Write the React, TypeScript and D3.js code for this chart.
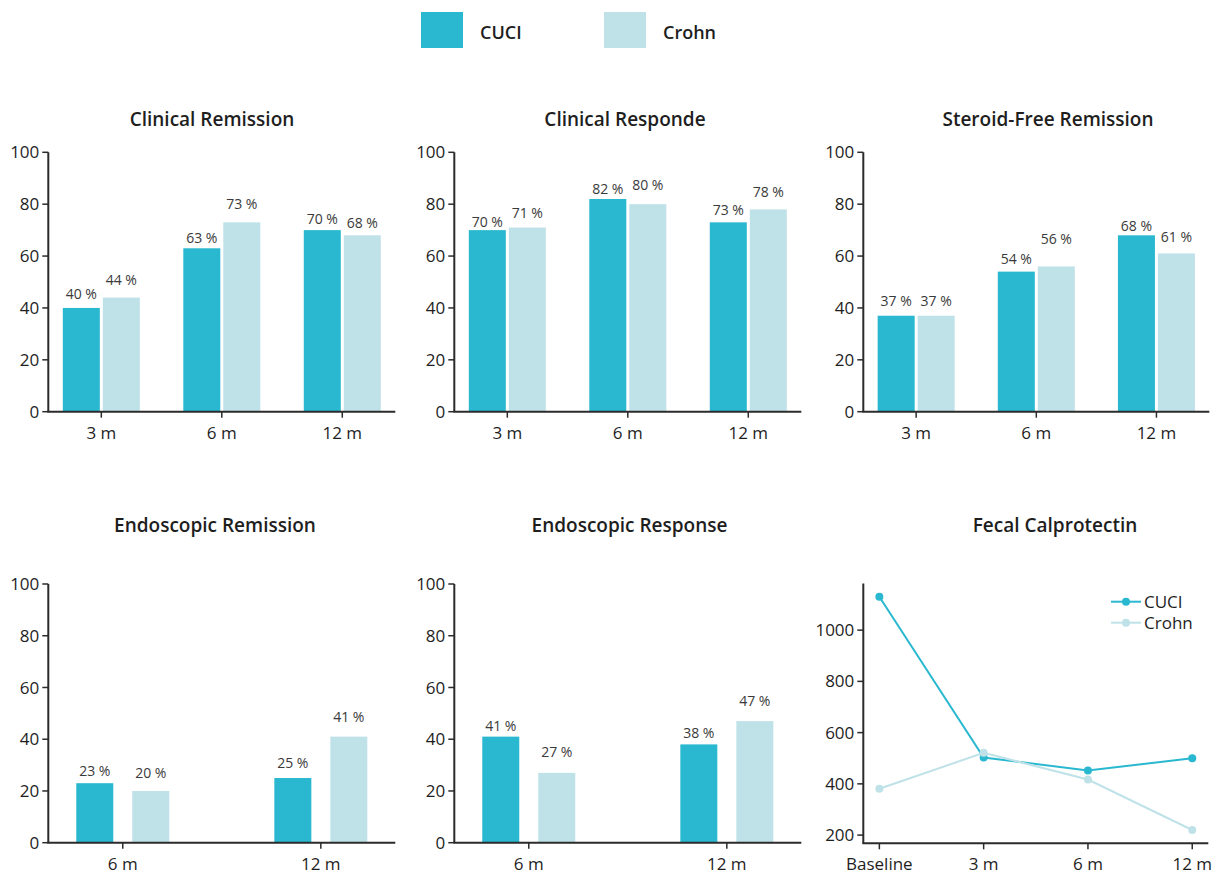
import React from "react";
import * as d3 from "d3";

// ---- data ----
const seriesNames = ["CUCI", "Crohn"];
const periodsThree = ["3 m", "6 m", "12 m"];
const periodsTwo = ["6 m", "12 m"];

const clinicalRemissionCuci = [40, 63, 70];
const clinicalRemissionCrohn = [44, 73, 68];
const clinicalResponseCuci = [70, 82, 73];
const clinicalResponseCrohn = [71, 80, 78];
const steroidFreeCuci = [37, 54, 68];
const steroidFreeCrohn = [37, 56, 61];
const endoRemissionCuci = [23, 25];
const endoRemissionCrohn = [20, 41];
const endoResponseCuci = [41, 38];
const endoResponseCrohn = [27, 47];

const fecalPeriods = ["Baseline", "3 m", "6 m", "12 m"];
const fecalCuci = [1130, 503, 452, 500];
const fecalCrohn = [381, 521, 417, 220];

const percentTicks = [0, 20, 40, 60, 80, 100];
const fecalTicks = [200, 400, 600, 800, 1000];

// ---- style ----
const COLORS: Record<string, string> = { CUCI: "#29b8cf", Crohn: "#bfe2e8" };
const FONT = "'Open Sans', 'DejaVu Sans', sans-serif";
const AXIS = "#2b2b2b";
const TEXT = "#1e1e1e";
const TITLE_SIZE = 19;

// label lift above each bar (px), CUCI then Crohn per panel
const liftsCR = [[9, 5, 6], [13, 13, 7]];
const liftsCRe = [[3, 5, 7], [10, 14, 12]];
const liftsSF = [[10, 8, 4], [10, 22, 11]];
const liftsER = [[7, 10], [13, 15]];
const liftsERe = [[6, 6], [16, 15]];

type BarPanelProps = {
  title: string;
  titleX: number;
  titleY: number;
  axisX: number;
  width: number;
  yTop: number;
  yBottom: number;
  periods: string[];
  cuci: number[];
  crohn: number[];
  pointPadding: number;
  barWidth: number;
  barGap: number;
  lifts: number[][];
};

function BarPanel(p: BarPanelProps) {
  const x = d3
    .scalePoint<string>()
    .domain(p.periods)
    .range([p.axisX, p.axisX + p.width])
    .padding(p.pointPadding);
  const y = d3.scaleLinear().domain([0, 100]).range([p.yBottom, p.yTop]);
  const series = [p.cuci, p.crohn];
  const offsets = [-(p.barGap / 2 + p.barWidth), p.barGap / 2];

  return (
    <g>
      <text
        x={p.titleX}
        y={p.titleY}
        textAnchor="middle"
        fontFamily={FONT}
        fontWeight={600}
        fontSize={TITLE_SIZE}
        fill={TEXT}
      >
        {p.title}
      </text>
      {series.map((vals, si) =>
        vals.map((v, i) => {
          const cx = x(p.periods[i]) as number;
          const bx = cx + offsets[si];
          return (
            <g key={`${si}-${i}`}>
              <rect
                x={bx}
                y={y(v)}
                width={p.barWidth}
                height={y(0) - y(v)}
                fill={COLORS[seriesNames[si]]}
              />
              <text
                x={bx + p.barWidth / 2}
                y={y(v) - p.lifts[si][i]}
                textAnchor="middle"
                fontFamily={FONT}
                fontSize={14}
                fill="#3a3a3a"
              >
                {`${v} %`}
              </text>
            </g>
          );
        })
      )}
      {/* y axis */}
      <line x1={p.axisX} x2={p.axisX} y1={y(100)} y2={y(0)} stroke={AXIS} strokeWidth={2} />
      {percentTicks.map((t) => (
        <g key={t}>
          <line x1={p.axisX - 6} x2={p.axisX} y1={y(t)} y2={y(t)} stroke={AXIS} strokeWidth={1.5} />
          <text
            x={p.axisX - 9}
            y={y(t)}
            dy="0.36em"
            textAnchor="end"
            fontFamily={FONT}
            fontSize={17}
            fill={TEXT}
          >
            {t}
          </text>
        </g>
      ))}
      {/* x axis */}
      <line x1={p.axisX - 1} x2={p.axisX + p.width} y1={y(0)} y2={y(0)} stroke={AXIS} strokeWidth={2} />
      {p.periods.map((c) => (
        <g key={c}>
          <line x1={x(c)} x2={x(c)} y1={y(0)} y2={y(0) + 6} stroke={AXIS} strokeWidth={1.5} />
          <text
            x={x(c)}
            y={y(0) + 27}
            textAnchor="middle"
            fontFamily={FONT}
            fontSize={17}
            fill={TEXT}
          >
            {c}
          </text>
        </g>
      ))}
    </g>
  );
}

function FecalPanel() {
  const axisX = 863.3;
  const width = 345;
  const yTop = 583.5;
  const yBottom = 843.3;
  const x = d3
    .scalePoint<string>()
    .domain(fecalPeriods)
    .range([axisX, axisX + width])
    .padding(0.154);
  const y = d3.scaleLinear().domain([168, 1182]).range([yBottom, yTop]);
  const line = d3
    .line<number>()
    .x((_, i) => x(fecalPeriods[i]) as number)
    .y((v) => y(v));
  const series = [fecalCuci, fecalCrohn];
  const legendX = 1111;
  const legendY = [601.7, 622.7];

  return (
    <g>
      <text
        x={1055}
        y={531.5}
        textAnchor="middle"
        fontFamily={FONT}
        fontWeight={600}
        fontSize={TITLE_SIZE}
        fill={TEXT}
      >
        Fecal Calprotectin
      </text>
      {series.map((vals, si) => (
        <g key={si}>
          <path d={line(vals) as string} fill="none" stroke={COLORS[seriesNames[si]]} strokeWidth={2} />
          {vals.map((v, i) => (
            <circle
              key={i}
              cx={x(fecalPeriods[i]) as number}
              cy={y(v)}
              r={4}
              fill={COLORS[seriesNames[si]]}
            />
          ))}
        </g>
      ))}
      {/* legend */}
      {seriesNames.map((s, si) => (
        <g key={s}>
          <line
            x1={legendX}
            x2={legendX + 30}
            y1={legendY[si]}
            y2={legendY[si]}
            stroke={COLORS[s]}
            strokeWidth={2}
          />
          <circle cx={legendX + 15} cy={legendY[si]} r={4} fill={COLORS[s]} />
          <text
            x={legendX + 33}
            y={legendY[si]}
            dy="0.36em"
            fontFamily={FONT}
            fontSize={17}
            fill={TEXT}
          >
            {s}
          </text>
        </g>
      ))}
      {/* y axis */}
      <line x1={axisX} x2={axisX} y1={yTop} y2={yBottom} stroke={AXIS} strokeWidth={2} />
      {fecalTicks.map((t) => (
        <g key={t}>
          <line x1={axisX - 6} x2={axisX} y1={y(t)} y2={y(t)} stroke={AXIS} strokeWidth={1.5} />
          <text
            x={axisX - 9}
            y={y(t)}
            dy="0.36em"
            textAnchor="end"
            fontFamily={FONT}
            fontSize={17}
            fill={TEXT}
          >
            {t}
          </text>
        </g>
      ))}
      {/* x axis */}
      <line x1={axisX - 1} x2={axisX + width} y1={yBottom} y2={yBottom} stroke={AXIS} strokeWidth={2} />
      {fecalPeriods.map((c) => (
        <g key={c}>
          <line x1={x(c)} x2={x(c)} y1={yBottom} y2={yBottom + 6} stroke={AXIS} strokeWidth={1.5} />
          <text
            x={x(c)}
            y={yBottom + 27}
            textAnchor="middle"
            fontFamily={FONT}
            fontSize={17}
            fill={TEXT}
          >
            {c}
          </text>
        </g>
      ))}
    </g>
  );
}

export default function App() {
  const topRow = { yTop: 152.3, yBottom: 411.7, titleY: 126 };
  const bottomRow = { yTop: 584, yBottom: 842.7, titleY: 531.5 };
  const axisXs = [48.3, 454.3, 863.3];
  const common3 = { pointPadding: 0.44, barWidth: 37, barGap: 3, periods: periodsThree, width: 347 };
  const common2 = { pointPadding: 0.376, barWidth: 37, barGap: 19, periods: periodsTwo, width: 347 };

  return (
    <svg
      width={1219}
      height={876}
      style={{ position: "absolute", left: 0, top: 0, background: "#fff" }}
    >
      {/* legend */}
      {seriesNames.map((s, i) => {
        const lx = [421, 604][i];
        return (
          <g key={s}>
            <rect x={lx} y={12} width={42} height={36} fill={COLORS[s]} />
            <text
              x={lx + 59}
              y={39}
              fontFamily={FONT}
              fontWeight={600}
              fontSize={18}
              fill={TEXT}
            >
              {s}
            </text>
          </g>
        );
      })}

      <BarPanel
        title="Clinical Remission"
        titleX={212}
        axisX={axisXs[0]}
        {...topRow}
        {...common3}
        cuci={clinicalRemissionCuci}
        crohn={clinicalRemissionCrohn}
        lifts={liftsCR}
      />
      <BarPanel
        title="Clinical Responde"
        titleX={625}
        axisX={axisXs[1]}
        {...topRow}
        {...common3}
        cuci={clinicalResponseCuci}
        crohn={clinicalResponseCrohn}
        lifts={liftsCRe}
      />
      <BarPanel
        title="Steroid-Free Remission"
        titleX={1048}
        axisX={axisXs[2]}
        {...topRow}
        {...common3}
        width={346}
        cuci={steroidFreeCuci}
        crohn={steroidFreeCrohn}
        lifts={liftsSF}
      />
      <BarPanel
        title="Endoscopic Remission"
        titleX={215}
        axisX={axisXs[0]}
        {...bottomRow}
        {...common2}
        cuci={endoRemissionCuci}
        crohn={endoRemissionCrohn}
        lifts={liftsER}
      />
      <BarPanel
        title="Endoscopic Response"
        titleX={629.5}
        axisX={axisXs[1]}
        {...bottomRow}
        {...common2}
        cuci={endoResponseCuci}
        crohn={endoResponseCrohn}
        lifts={liftsERe}
      />
      <FecalPanel />
    </svg>
  );
}
